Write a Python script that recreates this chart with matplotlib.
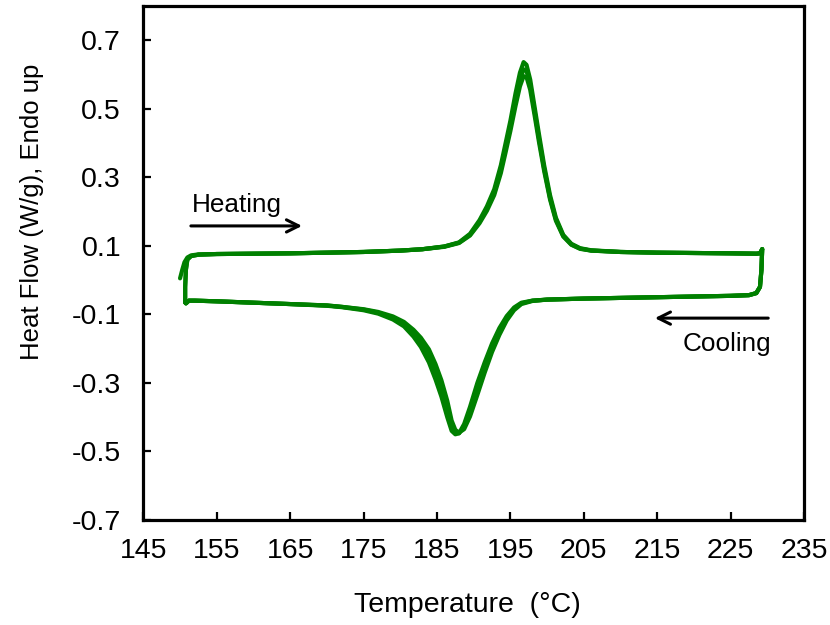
import matplotlib
matplotlib.use("Agg")
import matplotlib.pyplot as plt

plt.rcParams['font.family'] = ['Liberation Sans', 'DejaVu Sans']

# ---- data ----
# Heating segments (temperature, heat flow); three overlapping cycles
heat_T_1 = [150.0, 150.3, 150.6, 151.0, 151.5, 152.5, 155, 160, 165, 170, 175, 180, 183,
            186, 188, 189.5, 190.8, 191.8, 192.8, 193.7, 194.3, 195.0, 195.7, 196.3,
            196.8, 197.2, 197.7, 198.3, 198.9, 199.6, 200.4, 201.2, 202.2, 203.3, 204.5,
            206, 210, 215, 220, 225, 228.5, 229.0, 229.3]
heat_hf_1 = [0.005, 0.03, 0.052, 0.066, 0.072, 0.075, 0.076, 0.077, 0.078, 0.080, 0.082,
             0.086, 0.090, 0.098, 0.110, 0.135, 0.175, 0.215, 0.265, 0.335, 0.395, 0.465,
             0.545, 0.605, 0.636, 0.628, 0.585, 0.505, 0.425, 0.335, 0.248, 0.182, 0.132,
             0.106, 0.093, 0.087, 0.082, 0.080, 0.079, 0.078, 0.077, 0.078, 0.09]
heat_T_2 = [150.7, 150.7, 150.8, 151.0, 151.5, 152.5, 155, 160, 165, 170, 175, 180, 183,
            186, 188, 189.5, 190.8, 191.8, 192.8, 193.7, 194.3, 195.0, 195.7, 196.3,
            196.8, 197.2, 197.7, 198.3, 198.9, 199.6, 200.4, 201.2, 202.2, 203.3, 204.5,
            206, 210, 215, 220, 225, 228.5, 229.0, 229.3]
heat_hf_2 = [-0.065, -0.02, 0.03, 0.060, 0.070, 0.074, 0.076, 0.077, 0.078, 0.080, 0.082,
             0.086, 0.090, 0.098, 0.109, 0.132, 0.170, 0.208, 0.255, 0.322, 0.380, 0.448,
             0.525, 0.585, 0.615, 0.610, 0.570, 0.492, 0.412, 0.325, 0.240, 0.177, 0.129,
             0.104, 0.092, 0.086, 0.082, 0.080, 0.079, 0.078, 0.077, 0.078, 0.09]
heat_hf_3 = [-0.065, -0.02, 0.03, 0.060, 0.070, 0.074, 0.076, 0.077, 0.078, 0.080, 0.082,
             0.086, 0.090, 0.097, 0.108, 0.130, 0.166, 0.202, 0.248, 0.312, 0.368, 0.435,
             0.508, 0.565, 0.595, 0.592, 0.555, 0.480, 0.402, 0.318, 0.235, 0.173, 0.127,
             0.103, 0.091, 0.086, 0.082, 0.080, 0.079, 0.078, 0.077, 0.078, 0.09]

# Cooling segments
cool_T = [229.3, 229.2, 229.0, 228.5, 227.5, 225, 220, 215, 210, 205, 200, 198, 196.5,
          195.5, 194.5, 193.5, 192.5, 191.5, 190.5, 189.5, 188.7, 188.0, 187.5, 187.0,
          186.4, 185.6, 184.8, 183.9, 182.8, 181.8, 180.5, 179, 177, 175, 172, 170, 165,
          160, 155, 152, 151.2, 150.8, 150.7]
cool_hf_1 = [0.09, 0.03, -0.02, -0.038, -0.044, -0.046, -0.048, -0.050, -0.052, -0.054,
             -0.057, -0.060, -0.066, -0.080, -0.105, -0.140, -0.185, -0.240, -0.300,
             -0.370, -0.420, -0.447, -0.450, -0.440, -0.400, -0.340, -0.290, -0.240,
             -0.195, -0.165, -0.135, -0.115, -0.098, -0.088, -0.079, -0.075, -0.070,
             -0.066, -0.062, -0.060, -0.060, -0.068, -0.065]
cool_hf_2 = [0.09, 0.03, -0.02, -0.038, -0.044, -0.046, -0.048, -0.050, -0.052, -0.054,
             -0.057, -0.060, -0.068, -0.084, -0.112, -0.150, -0.198, -0.255, -0.318,
             -0.385, -0.428, -0.447, -0.445, -0.425, -0.375, -0.315, -0.265, -0.218,
             -0.180, -0.153, -0.127, -0.110, -0.095, -0.086, -0.078, -0.074, -0.070,
             -0.066, -0.062, -0.060, -0.060, -0.068, -0.065]
cool_hf_3 = [0.09, 0.03, -0.02, -0.038, -0.044, -0.046, -0.048, -0.050, -0.052, -0.054,
             -0.057, -0.061, -0.070, -0.088, -0.118, -0.160, -0.210, -0.270, -0.335,
             -0.398, -0.435, -0.445, -0.437, -0.410, -0.352, -0.292, -0.245, -0.202,
             -0.168, -0.145, -0.122, -0.106, -0.093, -0.085, -0.078, -0.074, -0.070,
             -0.066, -0.062, -0.060, -0.060, -0.068, -0.065]

x_ticks = [145, 155, 165, 175, 185, 195, 205, 215, 225, 235]
y_ticks = [-0.7, -0.5, -0.3, -0.1, 0.1, 0.3, 0.5, 0.7]

# ---- figure ----
fig = plt.figure(figsize=(8.3, 6.25), dpi=100)
ax = fig.add_axes([0.1727, 0.168, 0.7960, 0.8226])

green = '#008000'
lw = 3.0
for T, hf in [(heat_T_1, heat_hf_1), (cool_T, cool_hf_1),
              (heat_T_2, heat_hf_2), (cool_T, cool_hf_2),
              (heat_T_2, heat_hf_3), (cool_T, cool_hf_3)]:
    ax.plot(T, hf, color=green, lw=lw, solid_capstyle='round', solid_joinstyle='round')

ax.set_xlim(145, 235)
ax.set_ylim(-0.7, 0.8)
ax.set_xticks(x_ticks)
ax.set_xticklabels([str(t) for t in x_ticks])
ax.set_yticks(y_ticks)
ax.set_yticklabels([f"{v:.1f}" for v in y_ticks])

for s in ax.spines.values():
    s.set_linewidth(2.3)
ax.tick_params(axis='both', direction='in', length=6, width=1.6, labelsize=20.5,
               top=False, right=False)
ax.tick_params(axis='x', pad=13)
ax.tick_params(axis='y', pad=16)

fig.text(467 / 830, 1 - 605 / 625, 'Temperature  (°C)', fontsize=20.5,
         ha='center', va='center')
fig.text(32 / 830, 1 - 212 / 625, 'Heat Flow (W/g), Endo up', fontsize=18.5,
         ha='center', va='center', rotation=90)

# annotations
ax.annotate('', xy=(167.0, 0.158), xytext=(151.1, 0.158),
            arrowprops=dict(arrowstyle='->', color='black', lw=2.2,
                            mutation_scale=22))
ax.text(151.6, 0.200, 'Heating', fontsize=18.8, ha='left', va='baseline')
ax.annotate('', xy=(214.3, -0.111), xytext=(230.5, -0.111),
            arrowprops=dict(arrowstyle='->', color='black', lw=2.2,
                            mutation_scale=22))
ax.text(230.5, -0.208, 'Cooling', fontsize=18.8, ha='right', va='baseline')

fig.savefig('out.png', dpi=100)
